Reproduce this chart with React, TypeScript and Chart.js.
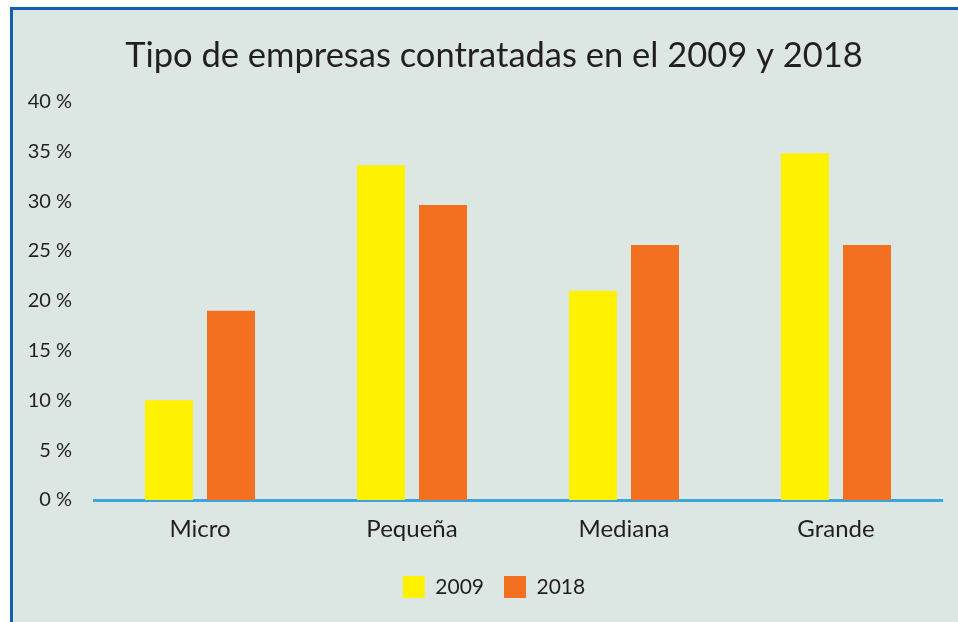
import React, { useEffect, useRef } from "react";
import { Chart, registerables } from "chart.js";

Chart.register(...registerables);

const categories = ["Micro", "Pequeña", "Mediana", "Grande"];
const values2009 = [10, 33.6, 21, 34.8];
const values2018 = [19, 29.6, 25.6, 25.6];
const seriesNames = ["2009", "2018"];
const titleText = "Tipo de empresas contratadas en el 2009 y 2018";
const yMin = 0;
const yMax = 40;
const yStep = 5;

const FONT = "Lato, 'Open Sans', sans-serif";
const TEXT = "#231f20";

export default function App() {
  const ref = useRef<HTMLCanvasElement | null>(null);

  useEffect(() => {
    if (!ref.current) return;
    const chart = new Chart(ref.current, {
      type: "bar",
      data: {
        labels: categories,
        datasets: [
          {
            label: seriesNames[0],
            data: values2009,
            backgroundColor: "#fff200",
            borderWidth: 0,
            categoryPercentage: 0.585,
            barPercentage: 0.774,
          },
          {
            label: seriesNames[1],
            data: values2018,
            backgroundColor: "#f37021",
            borderWidth: 0,
            categoryPercentage: 0.585,
            barPercentage: 0.774,
          },
        ],
      },
      options: {
        responsive: false,
        animation: false,
        layout: { padding: { left: 0, right: 0, top: 0, bottom: 14 } },
        plugins: {
          title: {
            display: true,
            text: titleText,
            color: TEXT,
            font: { family: FONT, size: 34.5, weight: "normal" },
            padding: { top: 35, bottom: 25 },
          },
          legend: {
            position: "bottom",
            labels: {
              boxWidth: 22,
              boxHeight: 22,
              padding: 20,
              color: TEXT,
              font: { family: FONT, size: 21 },
            },
          },
          tooltip: { enabled: false },
        },
        scales: {
          x: {
            grid: { display: false, drawTicks: false },
            border: { display: true, color: "#3aa6dc", width: 3 },
            ticks: {
              color: TEXT,
              padding: 15,
              font: { family: FONT, size: 24 },
            },
            afterFit: (s: any) => {
              s.height = 56;
            },
          },
          y: {
            min: yMin,
            max: yMax,
            grid: { display: false, drawTicks: false },
            border: { display: false },
            ticks: {
              stepSize: yStep,
              color: TEXT,
              padding: 22,
              font: { family: FONT, size: 20 },
              callback: (v: any) => `${v} %`,
            },
            afterFit: (s: any) => {
              s.width = 94;
            },
          },
          yRightSpacer: {
            position: "right",
            display: true,
            min: yMin,
            max: yMax,
            grid: { display: false, drawTicks: false },
            border: { display: false },
            ticks: { display: false },
            afterFit: (s: any) => {
              s.width = 46;
            },
          },
        },
      },
    });
    return () => chart.destroy();
  }, []);

  return (
    <div
      style={{
        position: "absolute",
        left: 0,
        top: 0,
        width: 958,
        height: 622,
        background: "#ffffff",
        overflow: "hidden",
      }}
    >
      <div
        style={{
          position: "absolute",
          left: 10,
          top: 7,
          right: 0,
          bottom: 0,
          borderLeft: "3px solid #1160ae",
          borderTop: "3px solid #1160ae",
          background: "#dce6e2",
        }}
      />
      <canvas
        ref={ref}
        width={988}
        height={622}
        style={{ position: "absolute", left: 0, top: 0, width: 988, height: 622 }}
      />
    </div>
  );
}
